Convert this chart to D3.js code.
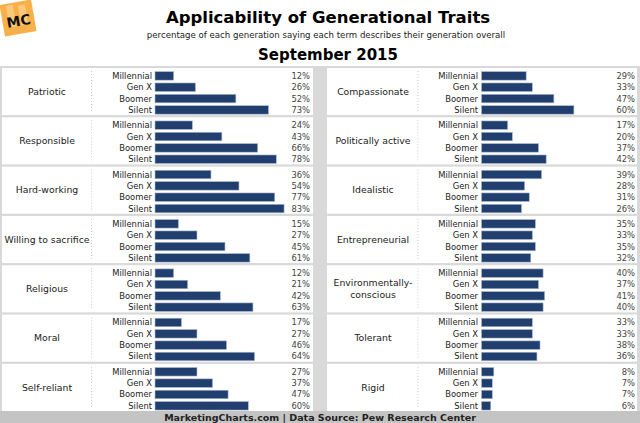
<!DOCTYPE html>
<html lang="en">
<head>
	<meta charset="UTF-8">
	<title>Applicability of Generational Traits</title>
	<script src="https://cdn.jsdelivr.net/npm/d3@7"></script>
	<style>
		body { margin: 0; background: #fff; }
		text { font-family: "DejaVu Sans", Verdana, sans-serif; }
	</style>
</head>
<body>
	<div id="container"></div>
	<script>
		var width = 640, height = 423;

		var generations = ["Millennial", "Gen X", "Boomer", "Silent"];
		var leftTraits = ["Patriotic", "Responsible", "Hard-working", "Willing to sacrifice", "Religious", "Moral", "Self-reliant"];
		var leftValues = [
			[12, 26, 52, 73],
			[24, 43, 66, 78],
			[36, 54, 77, 83],
			[15, 27, 45, 61],
			[12, 21, 42, 63],
			[17, 27, 46, 64],
			[27, 37, 47, 60]
		];
		var rightTraits = ["Compassionate", "Politically active", "Idealistic", "Entrepreneurial", "Environmentally-\nconscious", "Tolerant", "Rigid"];
		var rightValues = [
			[29, 33, 47, 60],
			[17, 20, 37, 42],
			[39, 28, 31, 26],
			[35, 33, 35, 32],
			[40, 37, 41, 40],
			[33, 33, 38, 36],
			[8, 7, 7, 6]
		];

		var svg = d3.select("#container").append("svg")
				.attr("width", width)
				.attr("height", height);

		// title block
		svg.append("rect").attr("x", 0).attr("y", 0).attr("width", width).attr("height", 66).attr("fill", "#fff");
		svg.append("text").attr("x", 328).attr("y", 23).attr("text-anchor", "middle")
			.style("font-size", "16.5px").style("font-weight", "bold").text("Applicability of Generational Traits");
		svg.append("text").attr("x", 326).attr("y", 38).attr("text-anchor", "middle")
			.style("font-size", "8.6px").attr("fill", "#222")
			.text("percentage of each generation saying each term describes their generation overall");
		svg.append("text").attr("x", 328).attr("y", 60).attr("text-anchor", "middle")
			.style("font-size", "15px").style("font-weight", "bold").text("September 2015");

		// logo
		var logo = svg.append("g").attr("transform", "translate(18,18) rotate(-10)");
		logo.append("rect").attr("x", -16).attr("y", -16).attr("width", 32).attr("height", 32).attr("fill", "#f7b04a");
		logo.append("rect").attr("x", -10).attr("y", -14).attr("width", 7).attr("height", 22).attr("fill", "#fbc97c");
		logo.append("rect").attr("x", 2).attr("y", -12).attr("width", 7).attr("height", 20).attr("fill", "#fbc97c");
		logo.append("text").attr("x", 0).attr("y", 8).attr("text-anchor", "middle")
			.style("font-size", "14px").style("font-weight", "bold").attr("fill", "#111").text("MC");

		// gray background and footer
		svg.append("rect").attr("x", 0).attr("y", 66).attr("width", width).attr("height", 345).attr("fill", "#d9d9d9");
		svg.append("rect").attr("x", 0).attr("y", 411).attr("width", width).attr("height", 12).attr("fill", "#c4c4c4");
		svg.append("text").attr("x", 320).attr("y", 421).attr("text-anchor", "middle")
			.style("font-size", "9.5px").style("font-weight", "bold").attr("fill", "#222")
			.text("MarketingCharts.com | Data Source: Pew Research Center");

		var groupY = d3.scaleBand()
				.domain(d3.range(7))
				.range([68, 411])
				.paddingInner(0.045)
				.paddingOuter(0);

		var barY = d3.scaleBand()
				.domain(generations)
				.range([2.5, 47.3])
				.paddingInner(0.25)
				.paddingOuter(0.1);

		function drawColumn(traits, values, opt) {
			var x = d3.scaleLinear().domain([0, 100]).range([opt.barX, opt.barX + opt.scale * 100]);
			var col = svg.append("g");
			var groups = col.selectAll(".grp").data(traits)
				.enter().append("g")
					.attr("transform", (d, i) => "translate(0," + groupY(i) + ")");

			groups.append("rect")
				.attr("x", opt.left).attr("y", 0)
				.attr("width", opt.right - opt.left)
				.attr("height", groupY.bandwidth())
				.attr("fill", "#fff");

			groups.append("line")
				.attr("x1", opt.divX).attr("x2", opt.divX)
				.attr("y1", 3).attr("y2", groupY.bandwidth() - 3)
				.attr("stroke", "#ccc").attr("stroke-dasharray", "1,2");

			groups.each(function(d) {
				var lines = d.split("\n");
				var t = d3.select(this).append("text")
					.attr("x", opt.catX)
					.attr("text-anchor", "middle")
					.style("font-size", "9.3px").attr("fill", "#222");
				lines.forEach((l, k) => {
					t.append("tspan").attr("x", opt.catX)
						.attr("y", groupY.bandwidth() / 2 + 3.3 + (k - (lines.length - 1) / 2) * 12)
						.text(l);
				});
			});

			groups.each(function(d, i) {
				var g = d3.select(this);
				var rows = generations.map((gen, j) => ({gen: gen, v: values[i][j]}));
				g.selectAll(".bar").data(rows).enter().append("rect")
					.attr("x", x(0))
					.attr("y", r => barY(r.gen))
					.attr("width", r => x(r.v) - x(0))
					.attr("height", barY.bandwidth())
					.attr("fill", "#213f6e")
					.attr("stroke", "#a9b7cc").attr("stroke-width", 0.6);
				g.selectAll(".gen").data(rows).enter().append("text")
					.attr("x", opt.genX)
					.attr("y", r => barY(r.gen) + barY.bandwidth() / 2 + 3)
					.attr("text-anchor", "end")
					.style("font-size", "8.4px").attr("fill", "#222")
					.text(r => r.gen);
				g.selectAll(".val").data(rows).enter().append("text")
					.attr("x", opt.valX)
					.attr("y", r => barY(r.gen) + barY.bandwidth() / 2 + 3)
					.attr("text-anchor", "end")
					.style("font-size", "8.4px").attr("fill", "#444")
					.text(r => r.v + "%");
			});
		}

		drawColumn(leftTraits, leftValues, {
			left: 2, right: 313, catX: 47, divX: 91.5, genX: 152, barX: 155, scale: 1.555, valX: 310
		});
		drawColumn(rightTraits, rightValues, {
			left: 327, right: 637, catX: 373, divX: 418, genX: 478, barX: 481.5, scale: 1.54, valX: 635
		});
	</script>
</body>
</html>
